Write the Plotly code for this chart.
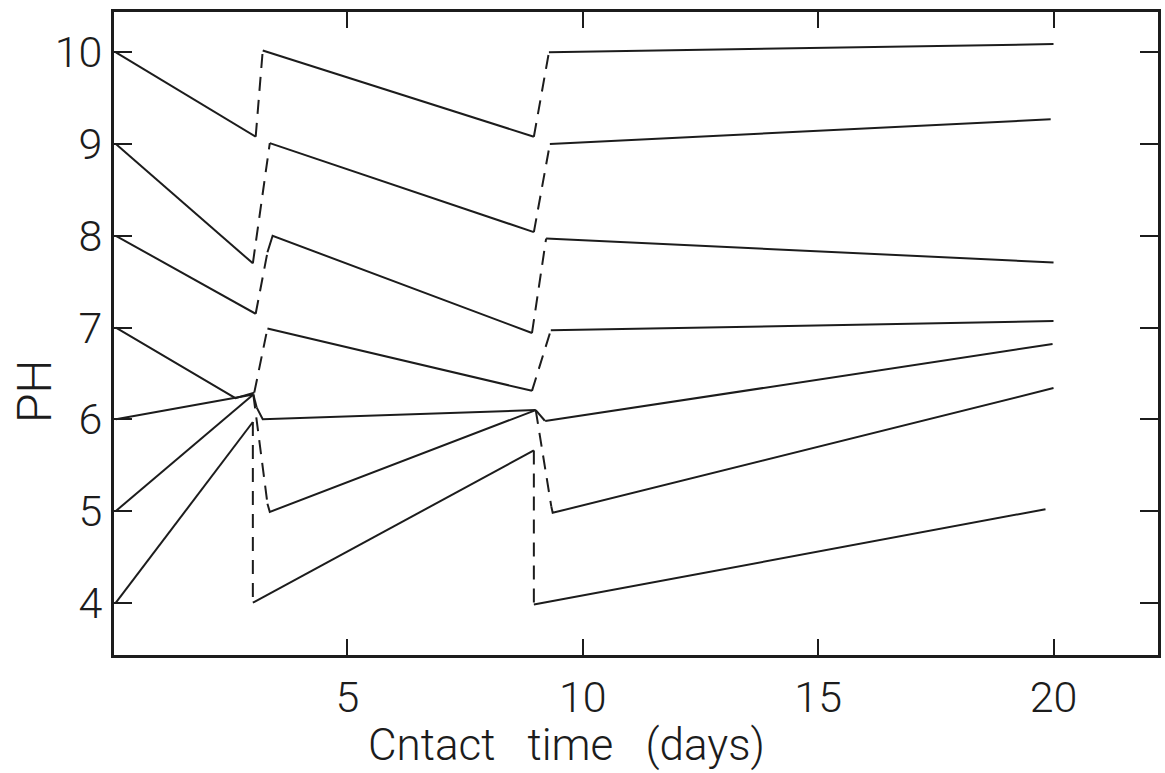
import plotly.graph_objects as go

# initial pH of each series
ph0 = [10, 9, 8, 7, 6, 5, 4]

# stage 1 (solid)
s1_x = [[0.08, 3.05], [0.08, 2.99], [0.08, 3.05], [0.08, 2.62, 3.02], [0.08, 3.0], [0.08, 3.0], [0.08, 2.99]]
s1_y = [[10, 9.08], [9, 7.70], [8, 7.15], [7, 6.23, 6.29], [6, 6.27], [5, 6.27], [4, 5.97]]
# re-adjustment 1 (dashed)
d1_x = [[3.05, 3.2], [2.99, 3.35], [3.05, 3.3], [3.02, 3.3], [3.0, 3.07], [3.0, 3.3], [2.99, 2.99]]
d1_y = [[9.08, 10.02], [7.70, 9.01], [7.15, 7.82], [6.29, 6.99], [6.27, 6.13], [6.27, 5.08], [5.97, 4.0]]
# stage 2 (solid)
s2_x = [[3.2, 8.96], [3.35, 8.96], [3.3, 3.41, 8.92], [3.3, 8.92], [3.07, 3.2, 9.0], [3.3, 3.35, 9.0], [2.99, 8.96]]
s2_y = [[10.02, 9.08], [9.01, 8.04], [7.82, 8.0, 6.94], [6.99, 6.31], [6.13, 6.0, 6.1], [5.08, 4.99, 6.1], [4.0, 5.66]]
# re-adjustment 2 (dashed)
d2_x = [[8.96, 9.28], [8.96, 9.3], [8.92, 9.22], [8.92, 9.32], [9.0, 9.2], [9.0, 9.33], [8.96, 8.96]]
d2_y = [[9.08, 10.0], [8.04, 9.0], [6.94, 7.97], [6.31, 6.97], [6.1, 5.98], [6.1, 5.05], [5.66, 3.98]]
# stage 3 (solid)
s3_x = [[9.28, 20.0], [9.3, 19.94], [9.22, 20.0], [9.32, 20.0], [9.2, 19.98], [9.33, 9.36, 20.0], [8.96, 19.83]]
s3_y = [[10.0, 10.09], [9.0, 9.27], [7.97, 7.71], [6.97, 7.07], [5.98, 6.82], [5.05, 4.98, 6.34], [3.98, 5.02]]

x_ticks = [5, 10, 15, 20]
y_ticks = [4, 5, 6, 7, 8, 9, 10]
x_title = "Cntact\u00a0\u00a0\u00a0time\u00a0\u00a0\u00a0(days)"
y_title = "PH"

INK = "#1c1c1c"
FONT = "Roboto, sans-serif"

fig = go.Figure()
for i, p in enumerate(ph0):
    xs = s1_x[i] + [None] + s2_x[i] + [None] + s3_x[i]
    ys = s1_y[i] + [None] + s2_y[i] + [None] + s3_y[i]
    fig.add_trace(go.Scatter(x=xs, y=ys, mode="lines", name=f"pH {p}",
                             line=dict(color=INK, width=2), showlegend=False,
                             connectgaps=False, hoverinfo="skip"))
    dx = d1_x[i] + [None] + d2_x[i]
    dy = d1_y[i] + [None] + d2_y[i]
    fig.add_trace(go.Scatter(x=dx, y=dy, mode="lines", showlegend=False,
                             line=dict(color=INK, width=2, dash="14px,9px"),
                             connectgaps=False, hoverinfo="skip"))

axis_common = dict(showgrid=False, zeroline=False, showline=True, linewidth=3,
                   linecolor=INK, mirror="ticks", ticks="inside", tickwidth=2,
                   tickcolor=INK, tickfont=dict(family=FONT, size=43, color=INK, weight=300))

fig.update_xaxes(range=[0.04, 22.22], tickvals=x_ticks, ticklen=16,
                 ticklabelstandoff=2, **axis_common)
fig.update_yaxes(range=[3.43, 10.44], tickvals=y_ticks, ticklen=18,
                 ticklabelstandoff=0, **axis_common)

fig.add_annotation(text=x_title, xref="paper", yref="paper", x=0.433, y=-0.14,
                   xanchor="center", yanchor="middle", showarrow=False,
                   font=dict(family=FONT, size=44, color=INK, weight=300))
fig.add_annotation(text=y_title, xref="paper", yref="paper", x=-0.076, y=0.41,
                   xanchor="center", yanchor="middle", textangle=-90, showarrow=False,
                   font=dict(family=FONT, size=48, color=INK, weight=300))

fig.update_layout(width=1165, height=773, margin=dict(l=114, r=4, t=12, b=118),
                  plot_bgcolor="white", paper_bgcolor="white")

fig.write_html("out.html")
